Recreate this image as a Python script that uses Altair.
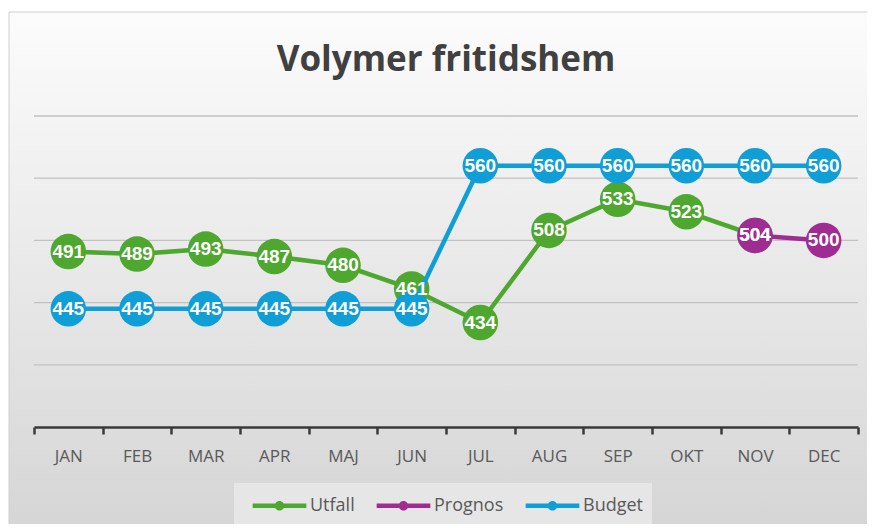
import altair as alt
import pandas as pd

months = ["JAN", "FEB", "MAR", "APR", "MAJ", "JUN", "JUL", "AUG", "SEP", "OKT", "NOV", "DEC"]
utfall = [491, 489, 493, 487, 480, 461, 434, 508, 533, 523, 504]
prognos_months = ["NOV", "DEC"]
prognos = [504, 500]
budget = [445, 445, 445, 445, 445, 445, 560, 560, 560, 560, 560, 560]
grid_values = [400, 450, 500, 550, 600]

series_names = ["Utfall", "Prognos", "Budget"]
series_colors = ["#4EA72E", "#A02B93", "#0F9ED5"]

df_u = pd.DataFrame({"month": months[:len(utfall)], "value": utfall, "series": "Utfall"})
df_p = pd.DataFrame({"month": prognos_months, "value": prognos, "series": "Prognos"})
df_b = pd.DataFrame({"month": months, "value": budget, "series": "Budget"})
df_all = pd.concat([df_u, df_p, df_b], ignore_index=True)

legend_symbol = ("M -2 -0.16 L 2 -0.16 L 2 0.16 L -2 0.16 Z "
                 "M 0.36 0 A 0.36 0.36 0 1 1 -0.36 0 A 0.36 0.36 0 1 1 0.36 0 Z")

x_enc = alt.X("month:N", sort=months, scale=alt.Scale(domain=months, paddingInner=0, paddingOuter=0),
              axis=alt.Axis(title=None, labelAngle=0, tickBand="extent", domainColor="#3a3a3a",
                            domainWidth=2.5, tickColor="#3a3a3a", tickWidth=2.5, tickSize=7,
                            labelColor="#595959", labelFont="Open Sans", labelFontSize=17,
                            labelPadding=14, grid=False, zindex=1))
y_enc = alt.Y("value:Q", scale=alt.Scale(domain=[350, 600], nice=False, zero=False),
              axis=alt.Axis(title=None, labels=False, ticks=False, domain=False, grid=False))
color_enc = alt.Color("series:N", scale=alt.Scale(domain=series_names, range=series_colors),
                      legend=alt.Legend(title=None, orient="none", direction="horizontal",
                                        legendX=200, legendY=367, symbolType=legend_symbol,
                                        symbolSize=720, symbolStrokeWidth=0, labelOffset=17,
                                        symbolOffset=23, columnPadding=12,
                                        labelFont="Open Sans", labelFontSize=18, labelColor="#595959",
                                        fillColor="#e6e6e6", padding=9))

bg = alt.Chart(pd.DataFrame({"a": [0]})).mark_rect(
    fill=alt.Gradient(gradient="linear", x1=0.5, y1=0, x2=0.5, y2=1,
                      stops=[alt.GradientStop(offset=0, color="#fcfcfc"),
                             alt.GradientStop(offset=1, color="#d5d5d5")]),
    stroke="#cfcfcf", strokeWidth=1
).encode(x=alt.value(-25), x2=alt.value(834), y=alt.value(-104), y2=alt.value(415))

grid = alt.Chart(pd.DataFrame({"value": grid_values})).mark_rule(
    color="#c2c2c2", strokeWidth=1.3
).encode(y=alt.Y("value:Q", scale=alt.Scale(domain=[350, 600], nice=False, zero=False),
                 axis=alt.Axis(title=None, labels=False, ticks=False, domain=False, grid=False)))


def series_layers(df):
    base = alt.Chart(df).encode(x=x_enc, y=y_enc, color=color_enc)
    line = base.mark_line(strokeWidth=4.5)
    pts = base.mark_point(filled=True, opacity=1, size=1260, shape="circle")
    return [line, pts]


layers = [bg, grid]
for d in [df_u, df_p, df_b]:
    layers += series_layers(d)

text = alt.Chart(df_all).mark_text(color="white", fontWeight="bold", font="Liberation Sans",
                                   fontSize=19).encode(x=x_enc, y=y_enc, text="value:Q")
layers.append(text)

chart = alt.layer(*layers).properties(
    width=824, height=311,
    title=alt.Title("Volymer fritidshem", fontSize=35, font="Open Sans", fontWeight="bold",
                    color="#404040", offset=0, dy=66, anchor="middle"),
    autosize=alt.AutoSizeParams(type="none"),
    padding={"left": 26, "top": 108, "right": 9, "bottom": 97},
).configure_view(stroke=None).configure(background="white")

chart.save("out.html", embed_options={"renderer": "svg", "actions": False})
